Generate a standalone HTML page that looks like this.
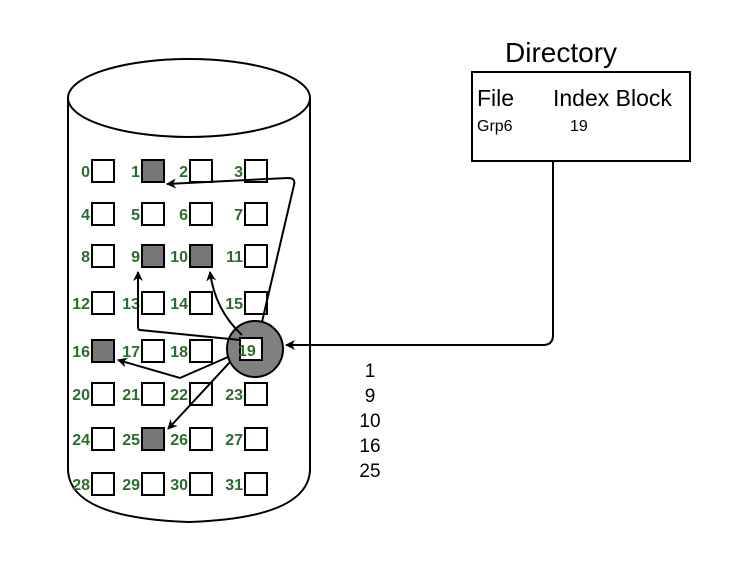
<!DOCTYPE html>
<html><head><meta charset="utf-8"><style>
html,body{margin:0;padding:0;background:#fff;width:751px;height:562px;overflow:hidden}
svg{display:block;font-family:"Liberation Sans",sans-serif}
.lbl{fill:#2e6b2e;font-weight:bold;font-size:16px}
</style></head><body>
<svg width="751" height="562" viewBox="0 0 751 562">
<defs><marker id="ah" markerWidth="10" markerHeight="10" refX="9" refY="5" orient="auto" markerUnits="userSpaceOnUse"><path d="M0,0 L10,5 L0,10 L3,5 z" fill="#000"/></marker></defs>
<g fill="none" stroke="#000" stroke-width="2">
<ellipse cx="189" cy="98" rx="121" ry="39"/>
<path d="M68,98 L68,470 Q70,518 189,522 Q308,518 310,470 L310,98"/>
</g>
<g id="grid"></g>
<circle cx="255" cy="349" r="28" fill="#808080" stroke="#000" stroke-width="2"/>
<rect x="240" y="338" width="22" height="22" fill="#fff" stroke="#000" stroke-width="2"/>
<text x="238" y="356" class="lbl">19</text>
<g fill="none" stroke="#000" stroke-width="2">
<path d="M262,322 L294,185 Q296,178 288,178 L167,184" marker-end="url(#ah)"/>
<path d="M240,340 L140,330 Q138,330 138,326 L138,272" marker-end="url(#ah)"/>
<path d="M242,335 Q215,310 210,272" marker-end="url(#ah)"/>
<path d="M228,357 L180,378 L118,360" marker-end="url(#ah)"/>
<path d="M230,362 L168,429" marker-end="url(#ah)"/>
<path d="M553,161 L553,335 Q553,345 543,345 L286,345" marker-end="url(#ah)"/>
</g>
<text x="505" y="62" font-size="28">Directory</text>
<rect x="472" y="72" width="218" height="89" fill="none" stroke="#000" stroke-width="2"/>
<text x="477" y="106" font-size="23">File</text>
<text x="553" y="106" font-size="23">Index Block</text>
<text x="477" y="131" font-size="16">Grp6</text>
<text x="570" y="131" font-size="16">19</text>
<g id="idx" font-size="19" text-anchor="middle"></g>
</svg>
<script>
const filled=[1,9,10,16,25];
const indexList=["1","9","10","16","25"];
const colX=[92,142,190,245];
const rowY=[160,203,245,292,340,383,428,473];
const grid=document.getElementById('grid');
const ns="http://www.w3.org/2000/svg";
for(let i=0;i<32;i++){
 if(i===19)continue;
 const c=i%4,r=Math.floor(i/4);
 const x=colX[c],y=rowY[r];
 const rc=document.createElementNS(ns,'rect');
 
 
 rc.setAttribute('x',x);rc.setAttribute('y',y);rc.setAttribute('width',22);rc.setAttribute('height',22);
 rc.setAttribute('fill',filled.includes(i)?'#777':'#fff');rc.setAttribute('stroke','#000');rc.setAttribute('stroke-width','2');
 grid.appendChild(rc);
 const t=document.createElementNS(ns,'text');
 
 
 t.setAttribute('class','lbl');
 t.setAttribute('x',x-2);t.setAttribute('y',y+17);t.setAttribute('text-anchor','end');
 t.textContent=i;grid.appendChild(t);
}
const idx=document.getElementById('idx');
indexList.forEach((v,k)=>{
 const t=document.createElementNS(ns,'text');
 
 
 t.setAttribute('x',370);t.setAttribute('y',377+k*25);t.textContent=v;idx.appendChild(t);
});
</script>
</body></html>
